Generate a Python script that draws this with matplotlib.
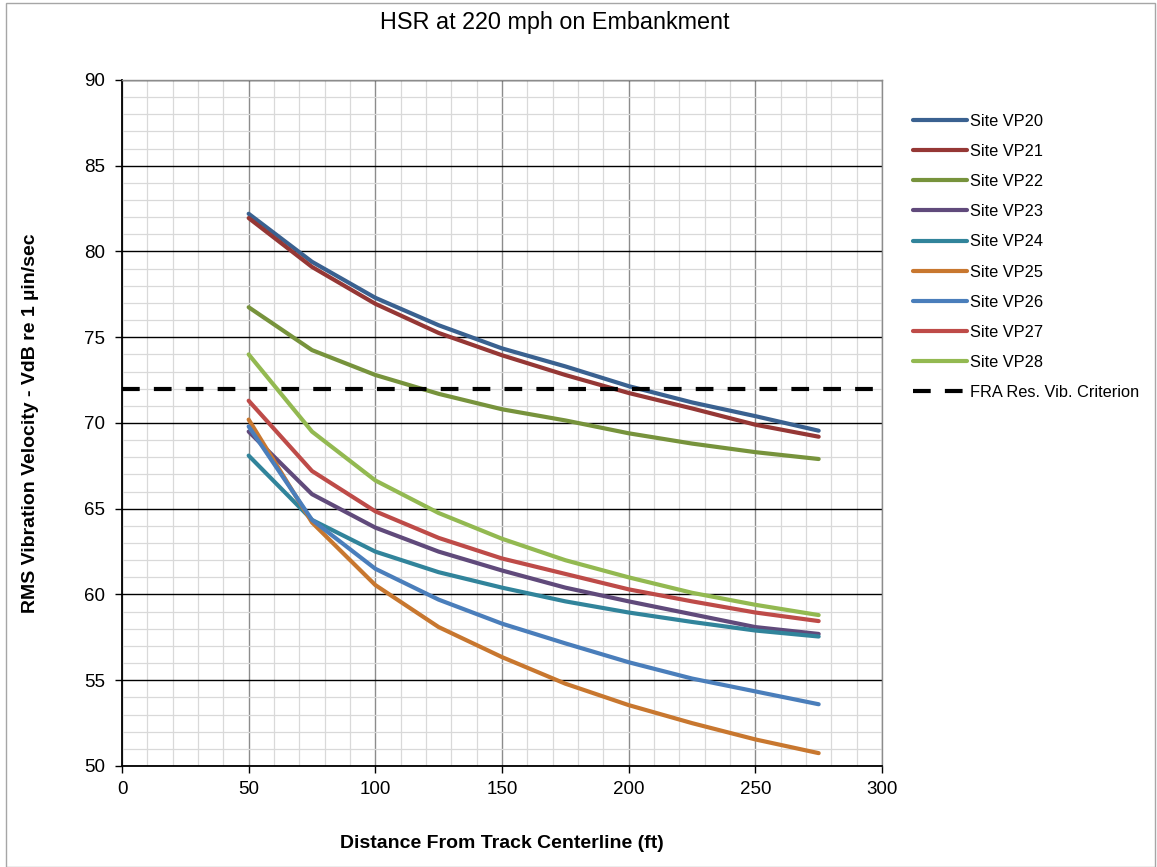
import matplotlib
matplotlib.use("Agg")
import matplotlib.pyplot as plt
from matplotlib.patches import Rectangle
from matplotlib.ticker import MultipleLocator

plt.rcParams['font.family'] = ['Liberation Sans', 'DejaVu Sans']

distance_ft = [50, 75, 100, 125, 150, 175, 200, 225, 250, 275]

site_names = ["Site VP20", "Site VP21", "Site VP22", "Site VP23", "Site VP24",
              "Site VP25", "Site VP26", "Site VP27", "Site VP28"]

vp20 = [82.2, 79.4, 77.3, 75.7, 74.35, 73.3, 72.15, 71.2, 70.4, 69.55]
vp21 = [81.95, 79.1, 76.95, 75.25, 73.95, 72.8, 71.75, 70.85, 69.9, 69.2]
vp22 = [76.75, 74.25, 72.8, 71.7, 70.8, 70.15, 69.4, 68.8, 68.3, 67.9]
vp23 = [69.5, 65.85, 63.9, 62.5, 61.4, 60.4, 59.6, 58.85, 58.1, 57.7]
vp24 = [68.1, 64.35, 62.5, 61.3, 60.4, 59.6, 58.95, 58.4, 57.9, 57.55]
vp25 = [70.2, 64.2, 60.55, 58.1, 56.35, 54.8, 53.55, 52.5, 51.55, 50.75]
vp26 = [69.8, 64.35, 61.5, 59.7, 58.3, 57.15, 56.05, 55.1, 54.35, 53.6]
vp27 = [71.3, 67.2, 64.85, 63.3, 62.1, 61.2, 60.3, 59.6, 58.95, 58.45]
vp28 = [74.0, 69.5, 66.65, 64.75, 63.25, 62.0, 61.0, 60.1, 59.4, 58.8]

series = [vp20, vp21, vp22, vp23, vp24, vp25, vp26, vp27, vp28]
colors = ["#3A6190", "#953735", "#77933C", "#604A7B", "#31849B",
          "#C8772F", "#4A7EBB", "#BE4B48", "#93B951"]

criterion_label = "FRA Res. Vib. Criterion"
criterion_vdb = 72

fig = plt.figure(figsize=(11.57, 8.67), dpi=100)
W, H = 1157, 867
ax = fig.add_axes([122 / W, 1 - 766 / H, 760 / W, 686 / H])

# outer chart frame
fig.patches.append(Rectangle((6 / W, 0), (1155 - 6) / W, 1 - 3 / H,
                             transform=fig.transFigure, fill=False,
                             edgecolor="#A6A6A6", linewidth=1.0))

for name, vals, c in zip(site_names, series, colors):
    ax.plot(distance_ft, vals, color=c, linewidth=3.0, label=name,
            solid_capstyle='round', zorder=3)

ax.axhline(criterion_vdb, color="black", linewidth=3.0, dashes=(4.25, 3.4),
           label=criterion_label, zorder=3)

ax.set_xlim(0, 300)
ax.set_ylim(50, 90)
ax.xaxis.set_major_locator(MultipleLocator(50))
ax.xaxis.set_minor_locator(MultipleLocator(10))
ax.yaxis.set_major_locator(MultipleLocator(5))
ax.yaxis.set_minor_locator(MultipleLocator(1))

ax.grid(which='minor', axis='both', color="#D9D9D9", linewidth=0.9, zorder=0)
ax.grid(which='major', axis='x', color="#8C8C8C", linewidth=1.0, zorder=1)
ax.grid(which='major', axis='y', color="black", linewidth=1.0, zorder=1)
ax.set_axisbelow(True)

for s in ['top', 'right']:
    ax.spines[s].set_color("#8C8C8C")
    ax.spines[s].set_linewidth(1.0)
for s in ['left', 'bottom']:
    ax.spines[s].set_color("black")
    ax.spines[s].set_linewidth(1.3)

ax.tick_params(which='major', direction='out', length=5, width=1.0,
               labelsize=13.5, colors='black')
ax.tick_params(axis='x', pad=6)
ax.tick_params(axis='y', pad=7)
ax.tick_params(which='minor', length=0)

fig.text(555 / W, 1 - 22 / H, "HSR at 220 mph on Embankment",
         ha='center', va='center', fontsize=16.8)
ax.set_xlabel("Distance From Track Centerline (ft)", fontsize=14,
              fontweight='bold')
ax.set_ylabel("RMS Vibration Velocity - VdB re 1 \u00b5in/sec", fontsize=14,
              fontweight='bold')
ax.xaxis.set_label_coords(0.5, (766 - 843) / 686, transform=ax.transAxes)
ax.yaxis.set_label_coords((31 - 122) / 760, 0.5, transform=ax.transAxes)
ax.xaxis.label.set_va('center')
ax.yaxis.label.set_va('center')

leg = fig.legend(loc='upper left', bbox_to_anchor=(898 / W, 1 - 99 / H),
                 frameon=False, fontsize=11.8, handlelength=3.3,
                 handletextpad=0.2, labelspacing=0.925)

fig.savefig("out.png", dpi=100, facecolor='white')
